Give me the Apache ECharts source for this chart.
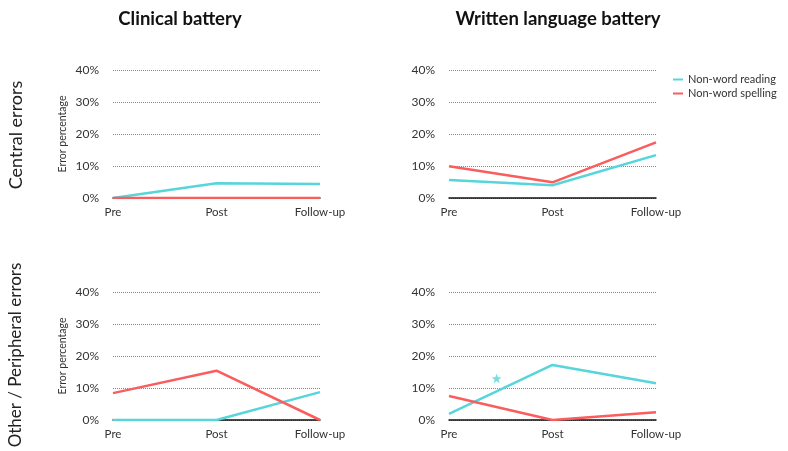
<!DOCTYPE html>
<html>
<head>
<meta charset="utf-8">
<script src="https://cdn.jsdelivr.net/npm/echarts@6/dist/echarts.min.js"></script>
<style>
  html, body { margin: 0; padding: 0; background: #fff; }
  #chart { width: 788px; height: 451px; }
</style>
</head>
<body>
<div id="chart"></div>
<script>
// Test points and tick values
const phases = ['Pre', 'Post', 'Follow-up'];
const yTicks = [0, 10, 20, 30, 40];
const seriesNames = ['Non-word reading', 'Non-word spelling'];
const columnTitles = ['Clinical battery', 'Written language battery'];
const rowTitles = ['Central errors', 'Other / Peripheral errors'];

// Error percentages per panel
const clinicalCentralReading = [0, 4.6, 4.4];
const clinicalCentralSpelling = [0, 0, 0];
const writtenCentralReading = [5.6, 4.0, 13.4];
const writtenCentralSpelling = [9.9, 4.9, 17.4];
const clinicalOtherReading = [0, 0, 8.7];
const clinicalOtherSpelling = [8.4, 15.4, 0];
const writtenOtherReading = [1.9, 17.2, 11.5];
const writtenOtherSpelling = [7.5, 0, 2.4];

// Significance marker (position along the phase axis, value)
const starMarker = [[0.46, 13.0]];

const TEAL = '#56d5da';
const RED = '#fa5d5d';
const FONT = 'Lato';

const panels = [
  { left: 113, top: 70, reading: clinicalCentralReading, spelling: clinicalCentralSpelling, yName: 'Error percentage' },
  { left: 449, top: 70, reading: writtenCentralReading, spelling: writtenCentralSpelling, yName: '' },
  { left: 113, top: 292, reading: clinicalOtherReading, spelling: clinicalOtherSpelling, yName: 'Error percentage' },
  { left: 449, top: 292, reading: writtenOtherReading, spelling: writtenOtherSpelling, yName: '' }
];

const grid = [], xAxis = [], yAxis = [], series = [];
panels.forEach((p, i) => {
  grid.push({ left: p.left, top: p.top, width: 207, height: 128 });
  xAxis.push({
    type: 'category', gridIndex: i, data: phases, boundaryGap: false,
    axisTick: { show: false },
    axisLine: { lineStyle: { color: '#111', width: 1.5 } },
    axisLabel: { color: '#333', fontSize: 11.5, fontFamily: FONT, margin: 8 }
  });
  yAxis.push({
    type: 'value', gridIndex: i, min: yTicks[0], max: yTicks[yTicks.length - 1], interval: 10,
    name: p.yName, nameLocation: 'middle', nameGap: 45,
    nameTextStyle: { fontSize: 10.5, color: '#333', fontFamily: FONT },
    axisLine: { show: false }, axisTick: { show: false },
    axisLabel: { color: '#333', fontSize: 12, fontFamily: FONT, margin: 14, formatter: '{value}%' },
    splitLine: { show: true, lineStyle: { color: '#888', type: [1, 1], width: 1 } }
  });
  series.push({
    name: seriesNames[0], type: 'line', xAxisIndex: i, yAxisIndex: i,
    data: p.reading, symbol: 'none', lineStyle: { color: TEAL, width: 2.5 }, itemStyle: { color: TEAL }
  });
  series.push({
    name: seriesNames[1], type: 'line', xAxisIndex: i, yAxisIndex: i,
    data: p.spelling, symbol: 'none', lineStyle: { color: RED, width: 2.5 }, itemStyle: { color: RED }
  });
});

// Hidden continuous axis in the last panel for placing the marker between phases
xAxis.push({ type: 'value', gridIndex: 3, min: 0, max: 2, show: false });
series.push({
  type: 'scatter', xAxisIndex: 4, yAxisIndex: 3, data: starMarker,
  symbol: 'path://M50,0 L61.8,35.1 L97.6,34.5 L69,56.9 L79.4,91.4 L50,70.6 L20.6,91.4 L31,56.9 L2.4,34.5 L38.2,35.1 Z',
  symbolSize: 10, itemStyle: { color: TEAL }, silent: true
});

const chart = echarts.init(document.getElementById('chart'), null, { renderer: 'canvas' });
chart.setOption({
  animation: false,
  backgroundColor: '#fff',
  grid, xAxis, yAxis, series,
  legend: {
    data: seriesNames, orient: 'vertical', left: 668, top: 69,
    itemWidth: 10, itemHeight: 2, itemGap: 3, icon: 'rect',
    textStyle: { color: '#333', fontSize: 11, fontFamily: FONT }
  },
  graphic: [
    { type: 'text', x: 180, y: 19, style: { text: columnTitles[0], fill: '#111', font: 'bold 18.5px ' + FONT, align: 'center', verticalAlign: 'middle' } },
    { type: 'text', x: 558, y: 19, style: { text: columnTitles[1], fill: '#111', font: 'bold 18.5px ' + FONT, align: 'center', verticalAlign: 'middle' } },
    { type: 'text', x: 16, y: 135, rotation: Math.PI / 2, style: { text: rowTitles[0], fill: '#222', font: '18px ' + FONT, align: 'center', verticalAlign: 'middle' } },
    { type: 'text', x: 16, y: 355, rotation: Math.PI / 2, style: { text: rowTitles[1], fill: '#222', font: '17px ' + FONT, align: 'center', verticalAlign: 'middle' } }
  ]
});
</script>
</body>
</html>
